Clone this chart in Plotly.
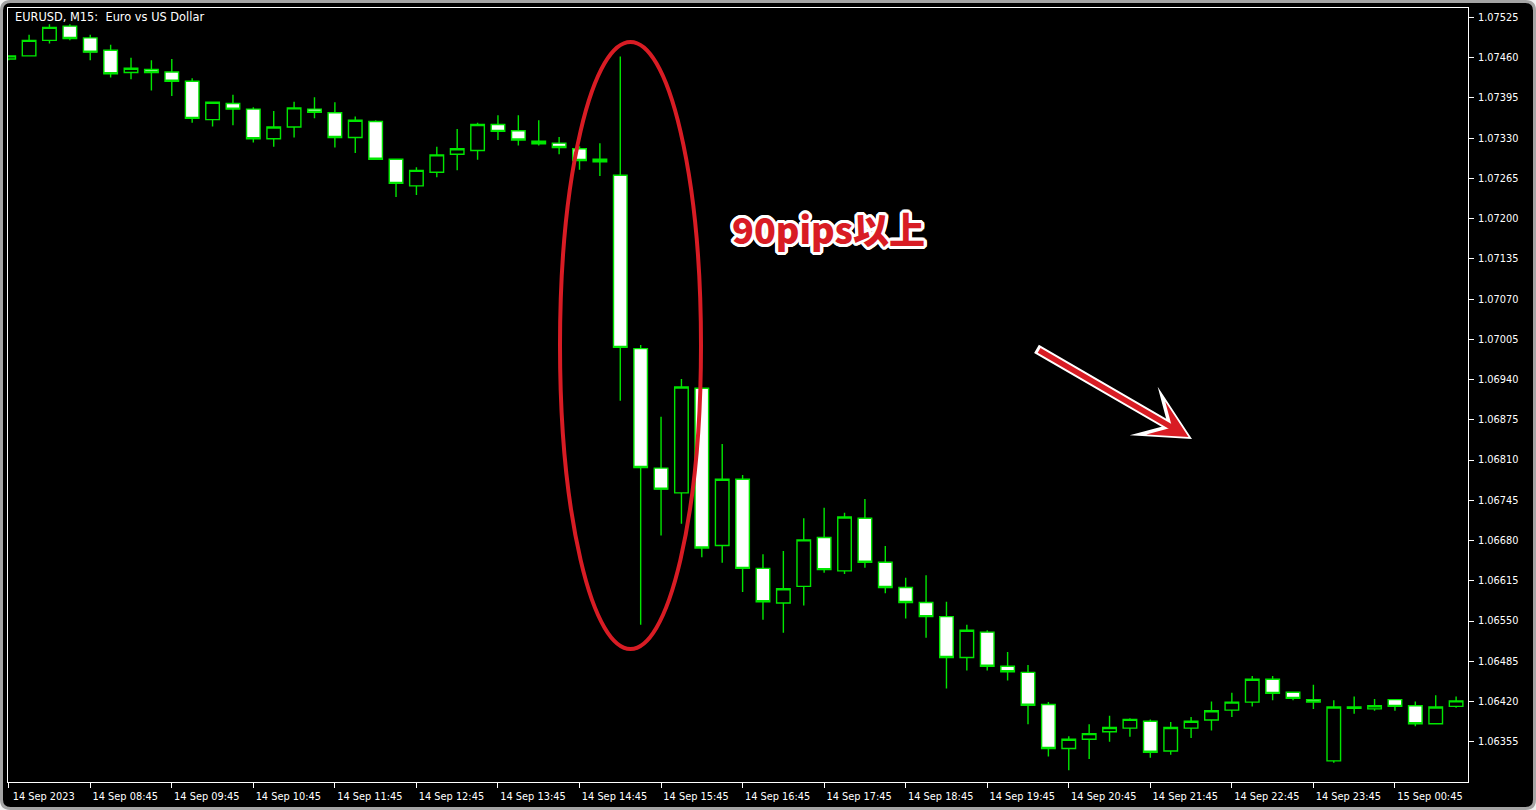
import plotly.graph_objects as go

# ---- data (EURUSD M15, 14 Sep 2023 07:45 -> 15 Sep 01:30) ----
bar_index = list(range(72))
open_ = [1.07458, 1.07463, 1.07488, 1.07511, 1.07492, 1.07472, 1.07436, 1.07441, 1.07437, 1.07422,
         1.07360, 1.07386, 1.07377, 1.07329, 1.07348, 1.07377, 1.07371, 1.07331, 1.07357, 1.07296,
         1.07253, 1.07275, 1.07304, 1.07310, 1.07352, 1.07342, 1.07325, 1.07322, 1.07313, 1.07296,
         1.07270, 1.06990, 1.06797, 1.06757, 1.06926, 1.06672, 1.06779, 1.06635, 1.06579, 1.06606,
         1.06685, 1.06631, 1.06716, 1.06645, 1.06604, 1.06580, 1.06557, 1.06491, 1.06532, 1.06477,
         1.06467, 1.06415, 1.06344, 1.06359, 1.06371, 1.06377, 1.06388, 1.06340, 1.06377, 1.06390,
         1.06406, 1.06419, 1.06456, 1.06435, 1.06423, 1.06324, 1.06409, 1.06408, 1.06423, 1.06413,
         1.06384, 1.06412]
high_ = [1.07464, 1.07497, 1.07514, 1.07514, 1.07497, 1.07481, 1.07460, 1.07456, 1.07458, 1.07427,
         1.07388, 1.07400, 1.07380, 1.07374, 1.07389, 1.07396, 1.07388, 1.07365, 1.07359, 1.07296,
         1.07283, 1.07316, 1.07345, 1.07355, 1.07367, 1.07367, 1.07359, 1.07332, 1.07317, 1.07322,
         1.07462, 1.06996, 1.06880, 1.06941, 1.06926, 1.06836, 1.06786, 1.06658, 1.06663, 1.06716,
         1.06733, 1.06725, 1.06747, 1.06671, 1.06620, 1.06624, 1.06581, 1.06544, 1.06535, 1.06500,
         1.06479, 1.06419, 1.06364, 1.06383, 1.06397, 1.06393, 1.06391, 1.06387, 1.06395, 1.06420,
         1.06434, 1.06461, 1.06461, 1.06435, 1.06447, 1.06422, 1.06428, 1.06424, 1.06423, 1.06420,
         1.06430, 1.06428]
low_ = [1.07456, 1.07463, 1.07483, 1.07488, 1.07456, 1.07428, 1.07425, 1.07407, 1.07398, 1.07355,
        1.07349, 1.07351, 1.07323, 1.07316, 1.07331, 1.07362, 1.07315, 1.07306, 1.07296, 1.07235,
        1.07238, 1.07267, 1.07278, 1.07295, 1.07327, 1.07318, 1.07318, 1.07304, 1.07279, 1.07269,
        1.06906, 1.06544, 1.06688, 1.06707, 1.06653, 1.06644, 1.06597, 1.06552, 1.06531, 1.06575,
        1.06628, 1.06626, 1.06636, 1.06595, 1.06554, 1.06523, 1.06441, 1.06470, 1.06470, 1.06454,
        1.06383, 1.06331, 1.06309, 1.06327, 1.06355, 1.06363, 1.06329, 1.06334, 1.06361, 1.06373,
        1.06395, 1.06412, 1.06422, 1.06422, 1.06408, 1.06321, 1.06400, 1.06405, 1.06405, 1.06380,
        1.06384, 1.06410]
close_ = [1.07463, 1.07488, 1.07509, 1.07491, 1.07469, 1.07434, 1.07443, 1.07436, 1.07422, 1.07362,
          1.07388, 1.07377, 1.07329, 1.07348, 1.07379, 1.07372, 1.07331, 1.07359, 1.07296, 1.07257,
          1.07278, 1.07303, 1.07313, 1.07352, 1.07341, 1.07327, 1.07321, 1.07315, 1.07294, 1.07292,
          1.06992, 1.06798, 1.06763, 1.06928, 1.06668, 1.06779, 1.06635, 1.06581, 1.06602, 1.06681,
          1.06633, 1.06718, 1.06645, 1.06604, 1.06580, 1.06557, 1.06491, 1.06535, 1.06477, 1.06468,
          1.06414, 1.06344, 1.06359, 1.06368, 1.06378, 1.06391, 1.06338, 1.06378, 1.06388, 1.06405,
          1.06419, 1.06456, 1.06433, 1.06425, 1.06419, 1.06411, 1.06411, 1.06413, 1.06412, 1.06384,
          1.06411, 1.06421]

x_tick_index = list(range(0, 72, 4))
x_tick_labels = ["14 Sep 2023", "14 Sep 08:45", "14 Sep 09:45", "14 Sep 10:45", "14 Sep 11:45",
                 "14 Sep 12:45", "14 Sep 13:45", "14 Sep 14:45", "14 Sep 15:45", "14 Sep 16:45",
                 "14 Sep 17:45", "14 Sep 18:45", "14 Sep 19:45", "14 Sep 20:45", "14 Sep 21:45",
                 "14 Sep 22:45", "14 Sep 23:45", "15 Sep 00:45"]
y_tick_values = [1.06355, 1.06420, 1.06485, 1.06550, 1.06615, 1.06680, 1.06745, 1.06810, 1.06875,
                 1.06940, 1.07005, 1.07070, 1.07135, 1.07200, 1.07265, 1.07330, 1.07395, 1.07460,
                 1.07525]

# ---- layout geometry (pixels) ----
W, H = 1536, 810
L, R, T, B = 8, 1468, 8, 782
GREEN = "#00e600"
RED = "#d81c24"
FONT = "DejaVu Sans"


def px(xp):
    return (xp - L) / (R - L)


def py(yp):
    return (B - yp) / (B - T)


fig = go.Figure()
fig.add_trace(go.Candlestick(
    x=bar_index, open=open_, high=high_, low=low_, close=close_,
    increasing=dict(line=dict(color=GREEN, width=1.4), fillcolor="#000000"),
    decreasing=dict(line=dict(color=GREEN, width=1.4), fillcolor="#ffffff"),
    hoverinfo="skip", showlegend=False,
))

# outer rounded frame
x0, y0, x1, y1, r = 1.5, 1.5, 1534.5, 808.5, 9
frame = (f"M {px(x0 + r)},{py(y0)} L {px(x1 - r)},{py(y0)} Q {px(x1)},{py(y0)} {px(x1)},{py(y0 + r)} "
         f"L {px(x1)},{py(y1 - r)} Q {px(x1)},{py(y1)} {px(x1 - r)},{py(y1)} "
         f"L {px(x0 + r)},{py(y1)} Q {px(x0)},{py(y1)} {px(x0)},{py(y1 - r)} "
         f"L {px(x0)},{py(y0 + r)} Q {px(x0)},{py(y0)} {px(x0 + r)},{py(y0)} Z")

shapes = [
    dict(type="path", xref="paper", yref="paper", path=frame, fillcolor="#000000",
         line=dict(color="#a4a4a4", width=3), layer="below"),
    dict(type="circle", xref="paper", yref="paper",
         x0=px(560), x1=px(701), y0=py(649), y1=py(42),
         line=dict(color=RED, width=4), layer="above"),
]

outline = ", ".join(f"{dx}px {dy}px 0 #ffffff" for dx, dy in
                    [(3, 0), (-3, 0), (0, 3), (0, -3), (2, 2), (-2, -2), (2, -2), (-2, 2),
                     (3, 1), (-3, 1), (3, -1), (-3, -1), (1, 3), (-1, 3), (1, -3), (-1, -3)])

annotations = [
    dict(xref="paper", yref="paper", x=px(13), y=py(17), xanchor="left", yanchor="middle",
         text="EURUSD, M15:\u00a0\u00a0Euro vs US Dollar", showarrow=False,
         font=dict(family=FONT, size=11.4, color="#ffffff")),
    dict(xref="paper", yref="paper", x=px(828), y=py(228), xanchor="center", yanchor="middle",
         text="90pips以上", showarrow=False,
         font=dict(family="Noto Sans CJK JP", size=36, color=RED, weight=900, shadow=outline)),
    # white outline arrow
    dict(xref="paper", yref="paper", x=px(1192), y=py(439), ax=1035 - 1192, ay=348 - 439,
         text="", showarrow=True, arrowhead=3, arrowwidth=9.5, arrowsize=0.98,
         arrowcolor="#ffffff"),
    # red arrow
    dict(xref="paper", yref="paper", x=px(1192), y=py(439), ax=1035 - 1192, ay=348 - 439,
         text="", showarrow=True, arrowhead=3, arrowwidth=5.5, arrowsize=1.15,
         arrowcolor=RED, standoff=4, startstandoff=3),
]

fig.update_layout(
    width=W, height=H,
    margin=dict(l=L, r=W - R, t=T, b=H - B, pad=0),
    paper_bgcolor="#f2f2f2", plot_bgcolor="#000000",
    shapes=shapes, annotations=annotations,
    showlegend=False, hovermode=False,
    boxgap=0.05, boxgroupgap=0.3,
    xaxis=dict(
        range=[(L - 8.7) / 20.386, (R - 8.7) / 20.386],
        rangeslider=dict(visible=False),
        tickmode="array", tickvals=x_tick_index, ticktext=x_tick_labels,
        showgrid=False, zeroline=False,
        showline=True, linecolor="#ffffff", linewidth=1, mirror=True,
        ticks="outside", ticklen=5, tickcolor="#ffffff", tickwidth=1,
        tickfont=dict(family=FONT, size=9.8, color="#ffffff"),
        ticklabelshift=35, ticklabelstandoff=0,
        fixedrange=True,
    ),
    yaxis=dict(
        range=[1.062899, 1.075403],
        side="right",
        tickmode="array", tickvals=y_tick_values,
        ticktext=[f"{v:.5f}" for v in y_tick_values],
        showgrid=False, zeroline=False,
        showline=True, linecolor="#ffffff", linewidth=1, mirror=True,
        ticks="outside", ticklen=5, tickcolor="#ffffff", tickwidth=1,
        tickfont=dict(family=FONT, size=9.8, color="#ffffff"),
        ticklabelstandoff=2,
        fixedrange=True,
    ),
)

fig.write_html("out.html", config={"displayModeBar": False},
               post_script="document.body.style.margin='0';document.body.style.overflow='hidden';")
